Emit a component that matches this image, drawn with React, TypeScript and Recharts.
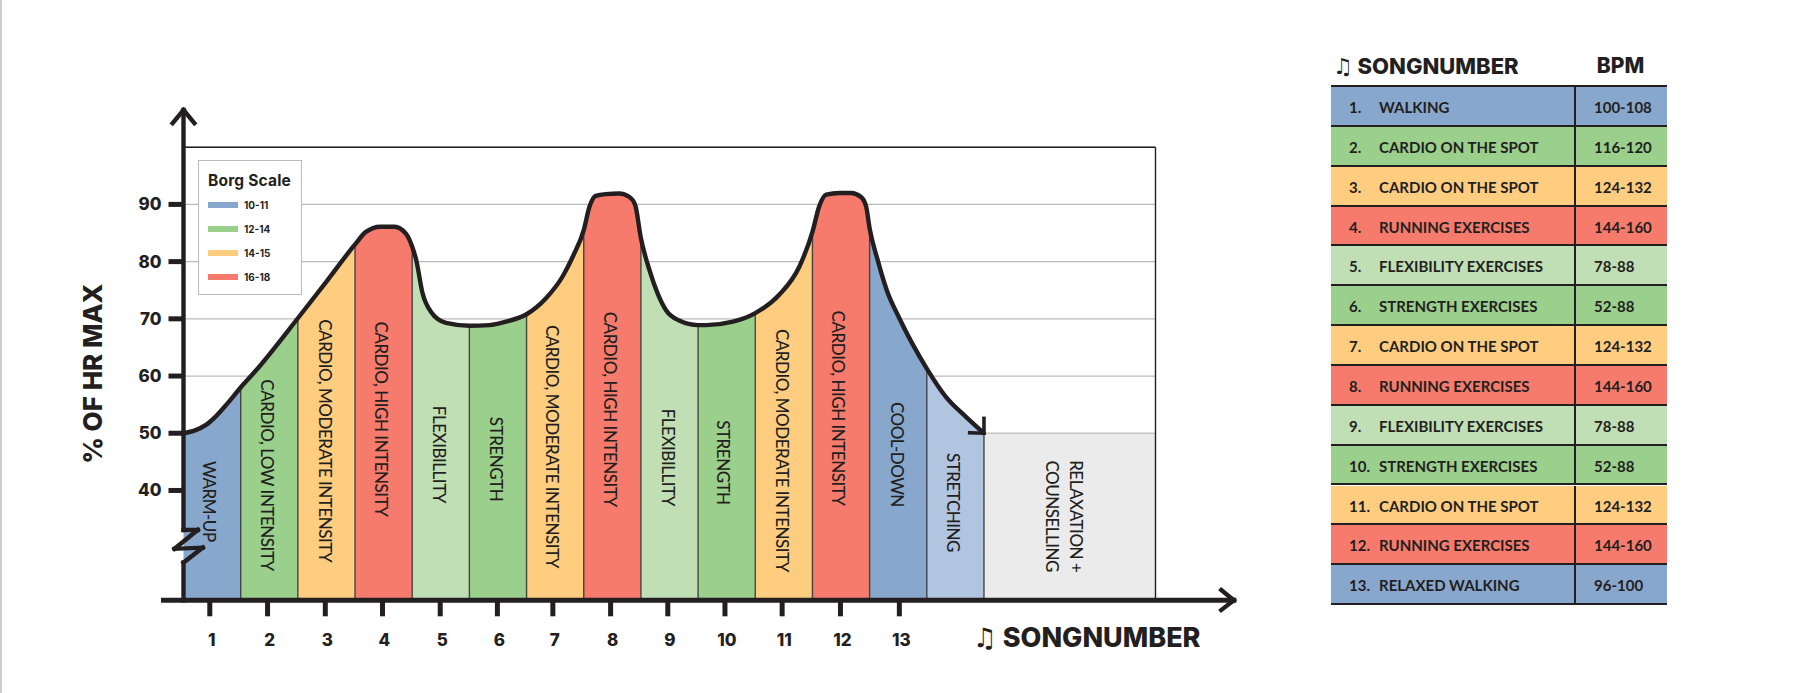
import React from "react"
import { ComposedChart, Area, Line, XAxis, YAxis, CartesianGrid, Legend, ReferenceLine, ReferenceDot } from "recharts"

const INK = "#231f20"
const FONT = "Lato, 'DejaVu Sans', sans-serif"
const HEAVY = "Inter, 'DejaVu Sans', sans-serif"

const BLUE = "#88a7cd"
const GREEN = "#9ad08c"
const ORANGE = "#ffcd80"
const RED = "#f67b6c"
const PALE_GREEN = "#c0dfb5"
const PALE_BLUE = "#b2c5e0"
const GREY = "#ebebeb"

// heart rate curve, x is in song widths from the y axis
const curveX = [0, 0.2, 0.4, 0.57, 0.75, 1, 1.27, 2, 2.5, 3, 3.19, 3.44, 3.69, 3.89, 4, 4.07, 4.18, 4.33, 4.59, 5, 5.35, 5.64, 6, 6.34, 6.63, 6.81, 7, 7.1, 7.21, 7.39, 7.62, 7.8, 7.9, 8, 8.15, 8.29, 8.44, 8.67, 9, 9.14, 9.61, 10, 10.42, 10.77, 11, 11.12, 11.24, 11.47, 11.68, 11.85, 11.94, 12, 12.14, 12.3, 12.52, 13, 13.33, 13.68, 14]
const curveHr = [50, 50.5, 51.5, 53, 55, 58, 61, 70.1, 76.5, 83, 85.2, 86.1, 86.1, 84.9, 82.6, 80.3, 74.5, 71.2, 69.3, 68.8, 68.9, 69.5, 70.8, 73.6, 77.4, 80.9, 85.5, 89.6, 91.5, 91.8, 91.9, 91.3, 89.9, 84.1, 78.5, 74.5, 71.5, 69.7, 68.9, 68.9, 69.5, 71, 74.2, 79.1, 85.2, 89.7, 91.7, 92, 92, 91.3, 89.6, 85.8, 80.3, 75, 70.1, 61.3, 56.4, 52.9, 50]

const bandColors = [BLUE, GREEN, ORANGE, RED, PALE_GREEN, GREEN, ORANGE, RED, PALE_GREEN, GREEN, ORANGE, RED, BLUE, PALE_BLUE]
const RELAX_HR = 50

const bandLabels = ["WARM-UP", "CARDIO, LOW INTENSITY", "CARDIO, MODERATE INTENSITY", "CARDIO, HIGH INTENSITY", "FLEXIBILLITY", "STRENGTH", "CARDIO, MODERATE INTENSITY", "CARDIO, HIGH INTENSITY", "FLEXIBILLITY", "STRENGTH", "CARDIO, MODERATE INTENSITY", "CARDIO, HIGH INTENSITY", "COOL-DOWN", "STRETCHING", "RELAXATION +", "COUNSELLING"]
const labelX = [0.455, 1.47, 2.48, 3.46, 4.48, 5.47, 6.45, 7.46, 8.48, 9.45, 10.47, 11.45, 12.48, 13.47, 15.62, 15.19]
const labelY = [38.1, 42.7, 48.7, 52.5, 46.3, 45.5, 47.7, 54.2, 45.8, 44.9, 47, 54.4, 46.3, 37.9, 35.5, 35.5]

const hrTicks = [40, 50, 60, 70, 80, 90]
const songTicks = [0.46, 1.47, 2.48, 3.48, 4.49, 5.49, 6.46, 7.47, 8.47, 9.47, 10.47, 11.49, 12.52]

const borgRanges = ["10-11", "12-14", "14-15", "16-18"]
const borgColors = [BLUE, GREEN, ORANGE, RED]

const songNames = ["WALKING", "CARDIO ON THE SPOT", "CARDIO ON THE SPOT", "RUNNING EXERCISES", "FLEXIBILITY EXERCISES", "STRENGTH EXERCISES", "CARDIO ON THE SPOT", "RUNNING EXERCISES", "FLEXIBILITY EXERCISES", "STRENGTH EXERCISES", "CARDIO ON THE SPOT", "RUNNING EXERCISES", "RELAXED WALKING"]
const songBpm = ["100-108", "116-120", "124-132", "144-160", "78-88", "52-88", "124-132", "144-160", "78-88", "52-88", "124-132", "144-160", "96-100"]
const songColors = [BLUE, GREEN, ORANGE, RED, PALE_GREEN, GREEN, ORANGE, RED, PALE_GREEN, GREEN, ORANGE, RED, BLUE]

const X_MIN = 0
const X_MAX = 17
const Y_MIN = 20.8
const Y_MAX = 100

// each band only has values between its two edges
const chartData: Record<string, number>[] = curveX.map((x, i) => {
  const row: Record<string, number> = { x, hr: curveHr[i] }
  bandColors.forEach((_, b) => {
    if (x >= b && x <= b + 1) row[`band${b}`] = curveHr[i]
  })
  if (x === 14) row.relax = RELAX_HR
  return row
})
chartData.push({ x: X_MAX, relax: RELAX_HR })

// y axis with the break in it, and the arrows
const yAxisBreak = [[0, Y_MIN], [0, 27.4], [0.337, 30], [-0.157, 29.8], [0.25, 33.1], [0, 33.1], [0, 106.5]]
const yArrow = [[-0.19, 104.2], [0, 106.5], [0.19, 104.2]]
const xAxisLine = [[-0.35, Y_MIN], [18.37, Y_MIN]]
const xArrow = [[18.15, 22.6], [18.37, Y_MIN], [18.15, 19.1]]
const curveArrow = [[13.75, 50.1], [14, 50], [14, 52.6]]

function Poly({ points, name, width, color = INK }: { points: number[][]; name: string; width: number; color?: string }) {
  return (
    <>
      {points.slice(1).map((p, i) => (
        <ReferenceLine
          key={`${name}-${i}`}
          segment={[
            { x: points[i][0], y: points[i][1] },
            { x: p[0], y: p[1] },
          ]}
          ifOverflow="visible"
          stroke={color}
          strokeWidth={width}
          strokeLinecap="square"
        />
      ))}
    </>
  )
}

function BandLabel({ cx, cy, text }: { cx?: number; cy?: number; text: string }) {
  return (
    <text
      transform={`translate(${cx},${cy}) rotate(90)`}
      textAnchor="middle"
      dominantBaseline="central"
      fontFamily={FONT}
      fontSize={17}
      fontWeight={500}
      fill={INK}
      letterSpacing={-0.5}
    >
      {text}
    </text>
  )
}

function BorgLegend() {
  return (
    <div style={{ width: 104, height: 135, boxSizing: "border-box", border: "1px solid #bbb", background: "#fff", position: "relative", fontFamily: HEAVY, color: INK }}>
      <div style={{ position: "absolute", left: 9, top: 10, fontSize: 15.5, fontWeight: 700, letterSpacing: 0.2, whiteSpace: "nowrap" }}>Borg Scale</div>
      {borgRanges.map((r, i) => (
        <React.Fragment key={r}>
          <div style={{ position: "absolute", left: 9, top: 41 + i * 24.1, width: 30, height: 6, background: borgColors[i] }} />
          <div style={{ position: "absolute", left: 45, top: 38 + i * 24, fontSize: 10, fontWeight: 700 }}>{r}</div>
        </React.Fragment>
      ))}
    </div>
  )
}

function SongTable() {
  const rowH = 39.85
  return (
    <div style={{ position: "absolute", left: 1331, top: 0, width: 336, fontFamily: FONT, color: INK }}>
      <div style={{ position: "absolute", left: 2, top: 53, fontSize: 22, fontWeight: 800, fontFamily: HEAVY, whiteSpace: "nowrap" }}>♫ SONGNUMBER</div>
      <div style={{ position: "absolute", left: 243, width: 93, textAlign: "center", top: 53, fontSize: 21, fontWeight: 800, fontFamily: HEAVY }}>BPM</div>
      <div style={{ position: "absolute", left: 0, top: 85, width: 336, height: rowH * 13, borderTop: `2px solid ${INK}`, boxSizing: "content-box" }}>
        {songNames.map((name, i) => (
          <div key={i} style={{ position: "absolute", left: 0, top: i * rowH, width: 336, height: rowH, background: songColors[i], borderBottom: `2px solid ${INK}`, boxSizing: "border-box", fontSize: 15, fontWeight: 700, lineHeight: `${rowH}px`, whiteSpace: "nowrap" }}>
            <span style={{ position: "absolute", left: 18, top: 1 }}>{i + 1}.</span>
            <span style={{ position: "absolute", left: 48, top: 1 }}>{name}</span>
            <span style={{ position: "absolute", left: 243, top: 0, bottom: 0, borderLeft: `2px solid ${INK}` }} />
            <span style={{ position: "absolute", left: 263, top: 1 }}>{songBpm[i]}</span>
          </div>
        ))}
      </div>
    </div>
  )
}

export default function App() {
  const tickStyle = { fontFamily: HEAVY, fontSize: 17, fontWeight: 800, fill: INK }
  return (
    <div style={{ position: "absolute", left: 0, top: 0, width: 1803, height: 693, background: "#fff", overflow: "hidden" }}>
      <div style={{ position: "absolute", left: 0, top: 0, width: 2, height: 693, background: "#ccc" }} />
      <ComposedChart
        width={1803}
        height={693}
        data={chartData}
        margin={{ top: 147.2, right: 647.5, bottom: 32.7, left: 83.5 }}
      >
        <CartesianGrid horizontal vertical={false} stroke="#bbb" strokeWidth={1.2} />
        <XAxis
          type="number"
          dataKey="x"
          domain={[X_MIN, X_MAX]}
          ticks={songTicks}
          interval={0}
          height={60}
          axisLine={false}
          tickLine={{ stroke: INK, strokeWidth: 5 }}
          tickSize={16}
          tickMargin={18}
          tick={{ ...tickStyle, dx: 2 }}
          tickFormatter={(v: number) => String(Math.ceil(v))}
          label={{ value: "♫ SONGNUMBER", position: "insideBottomRight", offset: 0, dx: 45, dy: -13, style: { fontFamily: HEAVY, fontSize: 27, fontWeight: 800, fill: INK } }}
        />
        <YAxis
          type="number"
          domain={[Y_MIN, Y_MAX]}
          ticks={hrTicks}
          interval={0}
          width={100}
          axisLine={false}
          tickLine={{ stroke: INK, strokeWidth: 5 }}
          tickSize={15}
          tickMargin={7}
          tick={tickStyle}
          label={{ value: "% OF HR MAX", angle: -90, position: "insideLeft", offset: 0, dx: 9, style: { fontFamily: HEAVY, fontSize: 26, fontWeight: 800, fill: INK, textAnchor: "middle" } }}
        />
        <Legend
          layout="horizontal"
          align="center"
          verticalAlign="middle"
          content={() => <BorgLegend />}
          wrapperStyle={{ position: "absolute", left: 198, top: 160, width: 104, height: 135 }}
        />
        {bandColors.map((color, b) => (
          <Area key={b} dataKey={`band${b}`} type="monotone" fill={color} fillOpacity={1} stroke="none" isAnimationActive={false} dot={false} activeDot={false} />
        ))}
        <Area dataKey="relax" type="linear" fill={GREY} fillOpacity={1} stroke="#bbb" strokeWidth={1.2} isAnimationActive={false} dot={false} activeDot={false} />

        {bandColors.map((_, b) => (
          <ReferenceLine
            key={`edge-${b}`}
            segment={[
              { x: b + 1, y: Y_MIN },
              { x: b + 1, y: curveHr[curveX.indexOf(b + 1)] },
            ]}
            stroke="#444"
            strokeWidth={1.4}
          />
        ))}
        <ReferenceLine segment={[{ x: X_MAX, y: Y_MIN }, { x: X_MAX, y: Y_MAX }]} stroke={INK} strokeWidth={1.4} />
        <ReferenceLine segment={[{ x: X_MIN, y: Y_MAX }, { x: X_MAX, y: Y_MAX }]} stroke={INK} strokeWidth={1.4} />

        <Line dataKey="hr" type="monotone" stroke={INK} strokeWidth={4.4} dot={false} activeDot={false} isAnimationActive={false} />

        {bandLabels.map((text, i) => (
          <ReferenceDot key={i} x={labelX[i]} y={labelY[i]} r={0} ifOverflow="visible" shape={(p: any) => <BandLabel cx={p.cx} cy={p.cy} text={text} />} />
        ))}

        <Poly name="y-axis" points={yAxisBreak} width={4.4} />
        <Poly name="y-arrow" points={yArrow} width={4.4} />
        <Poly name="x-axis" points={xAxisLine} width={5} />
        <Poly name="x-arrow" points={xArrow} width={4.4} />
        <Poly name="curve-arrow" points={curveArrow} width={3.6} />
      </ComposedChart>
      <SongTable />
    </div>
  )
}
